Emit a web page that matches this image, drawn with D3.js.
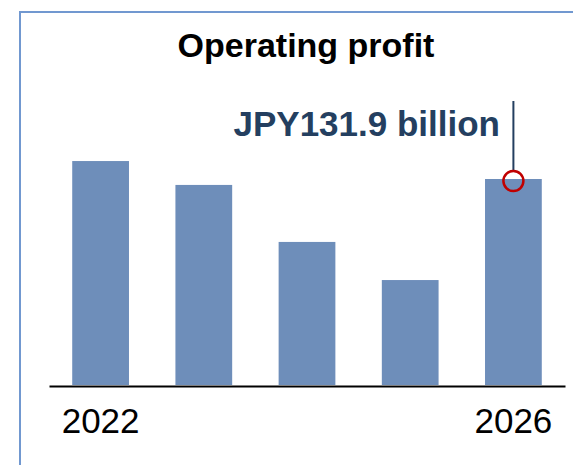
<!DOCTYPE html>
<html>
<head>
<meta charset="utf-8">
<script src="https://cdn.jsdelivr.net/npm/d3@7"></script>
<style>
  body { margin: 0; background: #fff; }
  text { font-family: "Liberation Sans", Arial, sans-serif; }
</style>
</head>
<body>
<svg width="573" height="465"></svg>
<script>
// Data
var years = ["2022", "2023", "2024", "2025", "2026"];
var profit = [143.4, 128.1, 91.6, 67.2, 131.9]; // JPY billion
var tickLabels = ["2022", "2026"];
var titleText = "Operating profit";
var calloutText = "JPY131.9 billion";

var svg = d3.select("svg"),
    width = +svg.attr("width"),
    height = +svg.attr("height");

// frame (right and bottom edges are cut off)
svg.append("path")
    .attr("d", "M20,466 L20,12 L574,12")
    .attr("fill", "none")
    .attr("stroke", "#7198D0")
    .attr("stroke-width", 2);

var x = d3.scaleBand()
    .domain(years)
    .range([49, 565])
    .paddingInner(0.45)
    .paddingOuter(0.225);

var y = d3.scaleLinear()
    .domain([0, 150])
    .range([385, 385 - 150 * 1.5618]);

svg.append("text")
    .attr("x", 306)
    .attr("y", 57)
    .attr("text-anchor", "middle")
    .style("font-size", "34px")
    .style("font-weight", "bold")
    .attr("fill", "#000")
    .text(titleText);

// bars
svg.append("g")
    .selectAll("rect")
    .data(years)
    .enter()
    .append("rect")
    .attr("x", function (d) { return x(d); })
    .attr("width", x.bandwidth())
    .attr("y", function (d, i) { return y(profit[i]); })
    .attr("height", function (d, i) { return y(0) - y(profit[i]); })
    .attr("fill", "#6E8EBA");

// baseline
var axis = svg.append("g")
    .attr("transform", "translate(0," + (y(0) + 1) + ")")
    .call(d3.axisBottom(x)
        .tickValues(tickLabels)
        .tickSize(0)
        .tickPadding(22));
axis.select(".domain").attr("stroke", "#000").attr("stroke-width", 2);
axis.selectAll("text")
    .style("font-size", "35px")
    .attr("fill", "#000");

// callout on last bar
var last = years[years.length - 1];
var cx = x(last) + x.bandwidth() / 2,
    cy = y(profit[profit.length - 1]) + 2;

svg.append("line")
    .attr("x1", cx).attr("x2", cx)
    .attr("y1", 101).attr("y2", cy - 10)
    .attr("stroke", "#243F60")
    .attr("stroke-width", 2);

svg.append("circle")
    .attr("cx", cx)
    .attr("cy", cy)
    .attr("r", 10)
    .attr("fill", "none")
    .attr("stroke", "#C00000")
    .attr("stroke-width", 2.5);

svg.append("text")
    .attr("x", 500)
    .attr("y", 136)
    .attr("text-anchor", "end")
    .style("font-size", "35px")
    .style("font-weight", "bold")
    .attr("fill", "#243F60")
    .text(calloutText);
</script>
</body>
</html>
